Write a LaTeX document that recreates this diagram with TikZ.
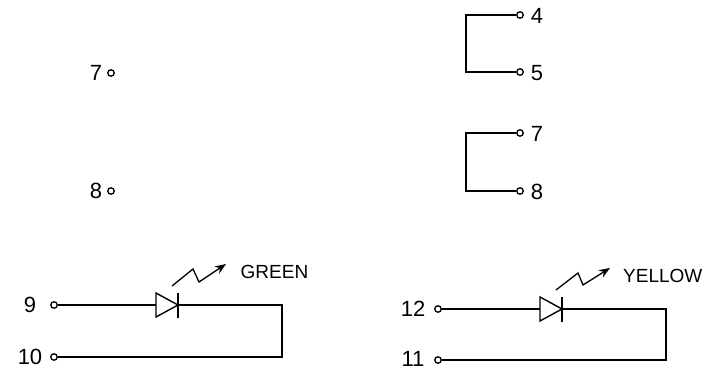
\documentclass[tikz,border=0pt]{standalone}
\usepackage{fontspec}
\setmainfont{Liberation Sans}
\usetikzlibrary{arrows.meta}
\tikzset{
  wire/.style={line width=1.6pt},
  term/.style={circle,draw,line width=1.3pt,fill=white,inner sep=0pt,minimum size=6.5pt},
  pinlabel/.style={inner sep=0pt,font=\fontsize{22}{22}\selectfont},
  ledlabel/.style={inner sep=0pt,anchor=west,font=\fontsize{19}{19}\selectfont},
  ledbody/.style={line width=1.4pt,line join=miter},
  glow/.style={line width=1.3pt,-{Stealth[length=11pt,width=8.5pt]}}
}
\begin{document}
\begin{tikzpicture}[x=1pt,y=-1pt]
\useasboundingbox (0,0) rectangle (719,371);
% Terminals
\foreach \name/\x/\y in {a7/111/73, a8/111/191, b4/520/15, b5/520/72, b7/520/133, b8/520/191, g9/54/305, g10/54/357, y12/438/309, y11/438/360} {
    \node[term] (\name) at (\x,\y) {};
}
% Pin numbers
\foreach \name/\x/\y/\txt in {la7/96/73/7, la8/96/191/8, lb4/537/16/4, lb5/537/73/5, lb7/537/134/7, lb8/537/192/8, lg9/30/305/9, lg10/30/357/10, ly12/413/309/12, ly11/413/359/11} {
    \node[pinlabel] (\name) at (\x,\y) {\txt};
}
% Links on the right
\coordinate (cb) at (466,15);
\coordinate (cd) at (466,133);
\draw[wire] (b4) -- (cb) |- (b5);
\draw[wire] (b7) -- (cd) |- (b8);
% Green
\coordinate (ga) at (156,305);
\coordinate (gk) at (178,305);
\coordinate (gc) at (282,305);
\draw[wire] (g9) -- (ga);
\draw[wire] (gk) -- (gc) |- (g10);
\draw[ledbody] (156,293) -- (178,305) -- (156,317) -- cycle;
\draw[ledbody] (178,293) -- (178,318);
\draw[glow] (172,286) -- (193,269) -- (199,282) -- (226,264);
\node[ledlabel] (green) at (240.5,272) {GREEN};
% Yellow
\coordinate (ya) at (540,309);
\coordinate (yk) at (562,309);
\coordinate (yc) at (666,309);
\draw[wire] (y12) -- (ya);
\draw[wire] (yk) -- (yc) |- (y11);
\draw[ledbody] (540,297) -- (562,309) -- (540,321) -- cycle;
\draw[ledbody] (562,297) -- (562,322);
\draw[glow] (556,290) -- (578,273) -- (583,285) -- (610,268);
\node[ledlabel] (yellow) at (623,276) {YELLOW};
\end{tikzpicture}
\end{document}
